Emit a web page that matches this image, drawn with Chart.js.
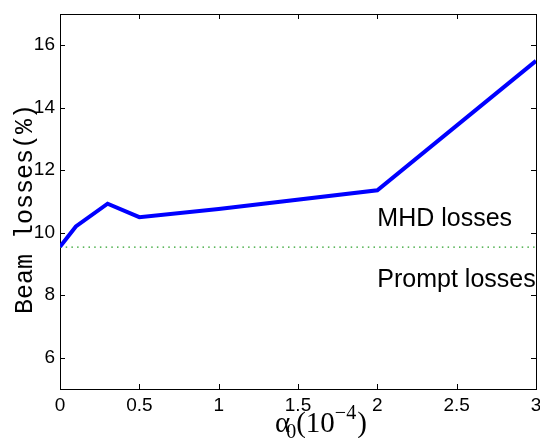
<!DOCTYPE html>
<html>
<head>
<meta charset="utf-8">
<script src="https://cdn.jsdelivr.net/npm/chart.js@4/dist/chart.umd.min.js"></script>
<style>
  html, body { margin: 0; padding: 0; background: #fff; }
  #wrap { width: 540px; height: 438px; }
</style>
</head>
<body>
<div id="wrap"><canvas id="beam-chart"></canvas></div>
<script>
const alpha = [0, 0.1, 0.3, 0.5, 1, 2, 3];
const beamLoss = [9.55, 10.2, 10.93, 10.5, 10.76, 11.36, 15.5];
const promptX = [0, 3];
const promptLoss = [9.54, 9.54];
const xTicks = [0, 0.5, 1, 1.5, 2, 2.5, 3];
const yTicks = [6, 8, 10, 12, 14, 16];

function setTicks(list) {
  return function (scale) {
    scale.ticks = list.map(v => ({ value: v }));
  };
}

function fixSize(w, h) {
  return function (scale) {
    if (w != null) scale.width = w;
    if (h != null) scale.height = h;
    scale.paddingLeft = 0;
    scale.paddingRight = 0;
    scale.paddingTop = 0;
    scale.paddingBottom = 0;
  };
}

const boxGrid = {
  drawOnChartArea: false,
  drawTicks: false,
};

// inward tick marks on all four sides (matlab style box)
const tickPlugin = {
  id: 'inTicks',
  afterDraw(chart) {
    const ctx = chart.ctx;
    const x = chart.scales.x;
    const y = chart.scales.y;
    const a = chart.chartArea;
    ctx.save();
    ctx.strokeStyle = '#000';
    ctx.lineWidth = 1;
    ctx.beginPath();
    xTicks.forEach(v => {
      const px = Math.round(x.getPixelForValue(v)) + 0.5;
      ctx.moveTo(px, a.bottom);
      ctx.lineTo(px, a.bottom - 5);
      ctx.moveTo(px, a.top);
      ctx.lineTo(px, a.top + 5);
    });
    yTicks.forEach(v => {
      const py = Math.round(y.getPixelForValue(v)) + 0.5;
      ctx.moveTo(a.left, py);
      ctx.lineTo(a.left + 5, py);
      ctx.moveTo(a.right, py);
      ctx.lineTo(a.right - 5, py);
    });
    ctx.stroke();
    ctx.restore();
  },
};

// region labels and axis titles
const textPlugin = {
  id: 'texts',
  afterDraw(chart) {
    const ctx = chart.ctx;
    const x = chart.scales.x;
    const y = chart.scales.y;
    ctx.save();
    ctx.fillStyle = '#000';
    ctx.textBaseline = 'alphabetic';
    ctx.font = '25px "Liberation Sans", Arial, sans-serif';
    ctx.fillText('MHD losses', x.getPixelForValue(2), y.getPixelForValue(10.21));
    ctx.fillText('Prompt losses', x.getPixelForValue(2), y.getPixelForValue(8.25));

    // y title, rotated
    ctx.save();
    ctx.translate(32, 209);
    ctx.rotate(-Math.PI / 2);
    ctx.textAlign = 'center';
    ctx.font = '25px "Liberation Mono", "Courier New", monospace';
    ctx.fillText('Beam losses(%)', 0, 0);
    ctx.restore();

    // α0(10^-4)
    const big = '29px "Liberation Serif", "Times New Roman", serif';
    const small = '20px "Liberation Serif", "Times New Roman", serif';
    let px = 275;
    const base = 432;
    ctx.font = big;
    ctx.fillText('α', px, base);
    px += ctx.measureText('α').width - 4;
    ctx.font = small;
    ctx.fillText('0', px, base + 6);
    px += ctx.measureText('0').width;
    ctx.font = big;
    ctx.fillText('(10', px, base);
    px += ctx.measureText('(10').width;
    ctx.font = small;
    ctx.fillText('\u22124', px, base - 13);
    px += ctx.measureText('\u22124').width + 1;
    ctx.font = big;
    ctx.fillText(')', px, base);
    ctx.restore();
  },
};

new Chart(document.getElementById('beam-chart'), {
  type: 'line',
  data: {
    datasets: [
      {
        label: 'Beam losses',
        data: alpha.map((a, i) => ({ x: a, y: beamLoss[i] })),
        borderColor: '#0000ff',
        backgroundColor: '#0000ff',
        borderWidth: 4,
        pointRadius: 0,
        fill: false,
      },
      {
        label: 'Prompt losses',
        data: promptX.map((a, i) => ({ x: a, y: promptLoss[i] })),
        borderColor: 'rgb(40,160,40)',
        borderWidth: 1.3,
        borderDash: [1.5, 4.2],
        pointRadius: 0,
        fill: false,
      },
    ],
  },
  options: {
    responsive: true,
    maintainAspectRatio: false,
    animation: false,
    layout: { padding: { top: 14, right: 0, left: 0, bottom: 0 } },
    plugins: {
      legend: { display: false },
      tooltip: { enabled: false },
    },
    scales: {
      x: {
        type: 'linear',
        position: 'bottom',
        min: 0,
        max: 3,
        afterBuildTicks: setTicks(xTicks),
        afterFit: fixSize(null, 49),
        grid: boxGrid,
        border: { color: '#000', width: 1 },
        ticks: {
          color: '#000',
          padding: 5,
          maxRotation: 0,
          autoSkip: false,
          callback: v => String(v),
          font: { family: '"Liberation Sans", Arial, sans-serif', size: 19 },
        },
      },
      x2: {
        type: 'linear',
        position: 'top',
        min: 0,
        max: 3,
        afterBuildTicks: setTicks(xTicks),
        afterFit: fixSize(null, 0),
        grid: boxGrid,
        border: { color: '#000', width: 1 },
        ticks: { display: false },
      },
      y: {
        type: 'linear',
        position: 'left',
        min: 5,
        max: 17,
        afterBuildTicks: setTicks(yTicks),
        afterFit: fixSize(60, null),
        grid: boxGrid,
        border: { color: '#000', width: 1 },
        ticks: {
          color: '#000',
          padding: 5,
          callback: v => String(v),
          font: { family: '"Liberation Sans", Arial, sans-serif', size: 19 },
        },
      },
      y2: {
        type: 'linear',
        position: 'right',
        min: 5,
        max: 17,
        afterBuildTicks: setTicks(yTicks),
        afterFit: fixSize(4, null),
        grid: boxGrid,
        border: { color: '#000', width: 1 },
        ticks: { display: false },
      },
    },
  },
  plugins: [tickPlugin, textPlugin],
});
</script>
</body>
</html>
